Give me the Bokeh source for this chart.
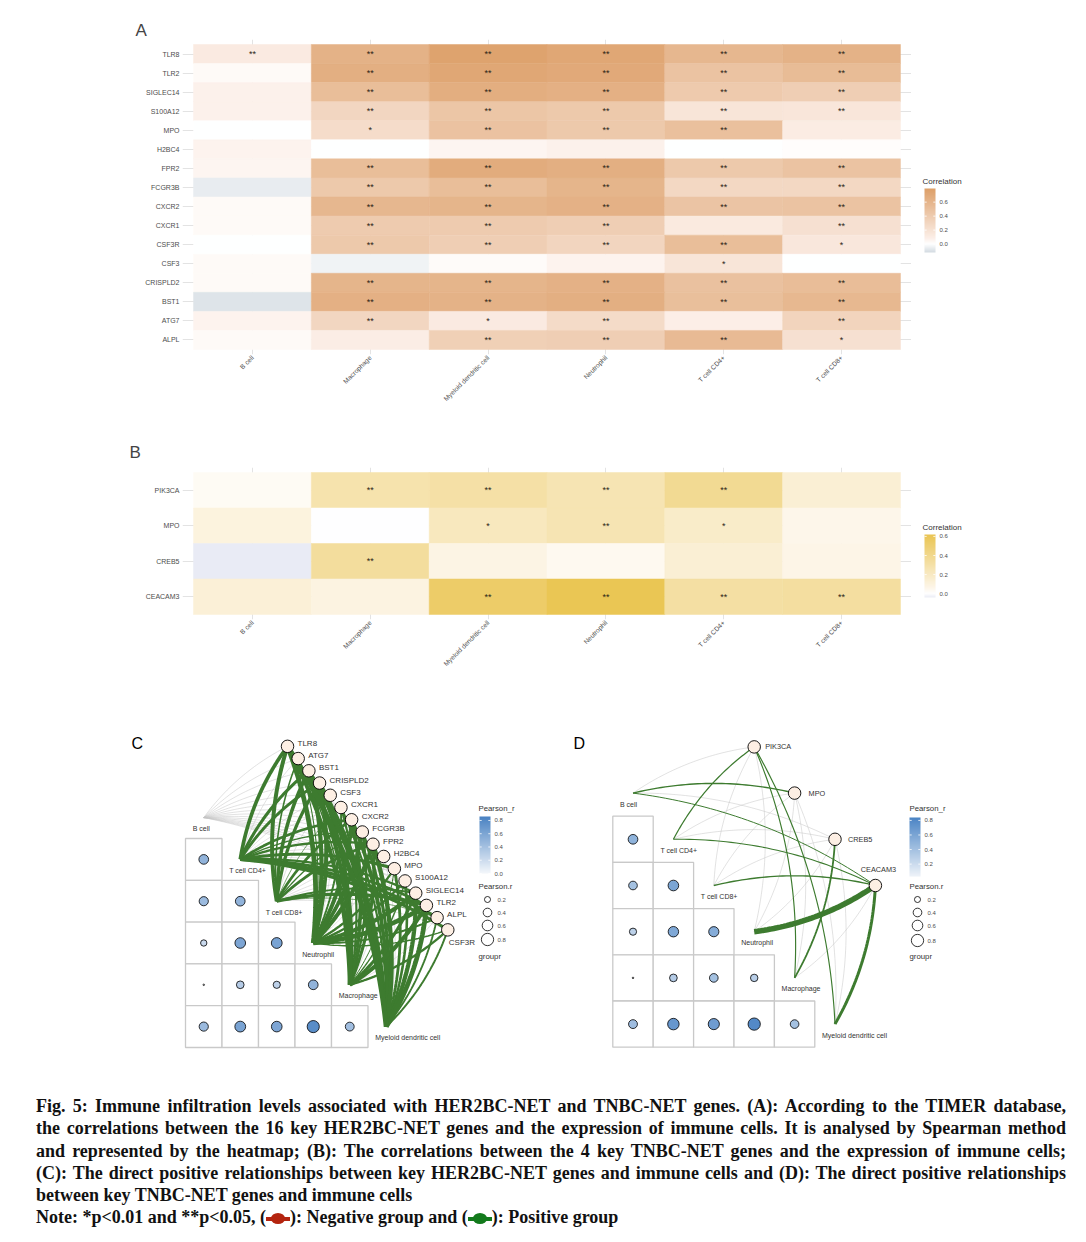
import math
import numpy as np
from bokeh.plotting import figure
from bokeh.models import (FactorRange, Range1d, LinearColorMapper, ColumnDataSource, Div, Spacer)
from bokeh.layouts import column, row
from bokeh.transform import transform
from bokeh.core.properties import value
from bokeh.embed import file_html
from bokeh.resources import INLINE

FONT = "Liberation Sans"
LABEL_GRAY = "#4d4d4d"
TEXT_DARK = "#333333"
GREEN = "#3d7b2f"
GRAY_EDGE = "#c4c4c4"

# ---------------- data ----------------
cells = ["B cell", "Macrophage", "Myeloid dendritic cell", "Neutrophil", "T cell CD4+", "T cell CD8+"]

genes_A = ["TLR8", "TLR2", "SIGLEC14", "S100A12", "MPO", "H2BC4", "FPR2", "FCGR3B",
           "CXCR2", "CXCR1", "CSF3R", "CSF3", "CRISPLD2", "BST1", "ATG7", "ALPL"]
corr_A = [
    [0.12, 0.62, 0.76, 0.72, 0.58, 0.62],
    [0.03, 0.65, 0.72, 0.70, 0.47, 0.54],
    [0.07, 0.52, 0.66, 0.64, 0.41, 0.37],
    [0.07, 0.30, 0.45, 0.42, 0.17, 0.16],
    [0.00, 0.25, 0.48, 0.42, 0.50, 0.11],
    [0.06, 0.00, 0.05, 0.07, 0.00, 0.01],
    [0.05, 0.52, 0.68, 0.65, 0.42, 0.47],
    [-0.06, 0.42, 0.52, 0.60, 0.29, 0.29],
    [0.03, 0.58, 0.60, 0.63, 0.46, 0.47],
    [0.03, 0.40, 0.40, 0.37, 0.13, 0.21],
    [0.00, 0.42, 0.37, 0.31, 0.52, 0.15],
    [0.03, -0.04, 0.02, 0.06, 0.17, 0.00],
    [0.03, 0.60, 0.60, 0.63, 0.49, 0.53],
    [-0.09, 0.64, 0.62, 0.65, 0.51, 0.57],
    [0.06, 0.30, 0.12, 0.26, 0.09, 0.32],
    [0.03, 0.10, 0.36, 0.37, 0.55, 0.21],
]
sig_A = [
    ["**", "**", "**", "**", "**", "**"],
    ["", "**", "**", "**", "**", "**"],
    ["", "**", "**", "**", "**", "**"],
    ["", "**", "**", "**", "**", "**"],
    ["", "*", "**", "**", "**", ""],
    ["", "", "", "", "", ""],
    ["", "**", "**", "**", "**", "**"],
    ["", "**", "**", "**", "**", "**"],
    ["", "**", "**", "**", "**", "**"],
    ["", "**", "**", "**", "", "**"],
    ["", "**", "**", "**", "**", "*"],
    ["", "", "", "", "*", ""],
    ["", "**", "**", "**", "**", "**"],
    ["", "**", "**", "**", "**", "**"],
    ["", "**", "*", "**", "", "**"],
    ["", "", "**", "**", "**", "*"],
]

genes_B = ["PIK3CA", "MPO", "CREB5", "CEACAM3"]
corr_B = [
    [0.03, 0.28, 0.31, 0.26, 0.38, 0.14],
    [0.10, 0.00, 0.22, 0.26, 0.18, 0.06],
    [-0.04, 0.34, 0.08, 0.04, 0.14, 0.07],
    [0.13, 0.09, 0.54, 0.61, 0.32, 0.33],
]
sig_B = [
    ["", "**", "**", "**", "**", ""],
    ["", "", "*", "**", "*", ""],
    ["", "**", "", "", "", ""],
    ["", "", "**", "**", "**", "**"],
]

net_cells = ["B cell", "T cell CD4+", "T cell CD8+", "Neutrophil", "Macrophage", "Myeloid dendritic cell"]
genes_C = ["TLR8", "ATG7", "BST1", "CRISPLD2", "CSF3", "CXCR1", "CXCR2", "FCGR3B", "FPR2",
           "H2BC4", "MPO", "S100A12", "SIGLEC14", "TLR2", "ALPL", "CSF3R"]
immune_r_C = [[0.50], [0.45, 0.50], [0.22, 0.60, 0.62], [0.02, 0.32, 0.28, 0.50],
              [0.45, 0.62, 0.60, 0.78, 0.42]]
genes_D = ["PIK3CA", "MPO", "CREB5", "CEACAM3"]
net_r_D = [
    [0.10, 0.28, 0.12, 0.15, 0.27, 0.27],
    [0.30, 0.08, 0.10, 0.12, 0.10, 0.12],
    [0.08, 0.10, 0.08, 0.10, 0.35, 0.10],
    [0.25, 0.26, 0.29, 0.82, 0.12, 0.50],
]
immune_r_D = [[0.50], [0.40, 0.60], [0.28, 0.58, 0.55], [0.02, 0.32, 0.40, 0.30],
              [0.42, 0.70, 0.66, 0.80, 0.40]]

ticks_corr = [0.0, 0.2, 0.4, 0.6]
ticks_pearson_C = [0.0, 0.2, 0.4, 0.6, 0.8]
ticks_pearson_D = [0.2, 0.4, 0.6, 0.8]
size_breaks = [0.2, 0.4, 0.6, 0.8]

# C network edge strengths follow the panel A correlations
net_r_C = [[corr_A[genes_A.index(g)][cells.index(c)] for c in net_cells] for g in genes_C]


# ---------------- helpers ----------------
def ramp(stops, lo, hi, n=256):
    sv = [s[0] for s in stops]
    cols = np.array([[int(h[i:i + 2], 16) for i in (1, 3, 5)] for _, h in stops], float)
    out = []
    for v in np.linspace(lo, hi, n):
        rgb = [int(round(np.interp(v, sv, cols[:, k]))) for k in range(3)]
        out.append("#%02x%02x%02x" % tuple(rgb))
    return out


A_LO, A_HI = -0.12, 0.795
B_LO, B_HI = -0.04, 0.62
mapA = LinearColorMapper(palette=ramp([(A_LO, "#d3dbe2"), (0.0, "#ffffff"), (0.08, "#fcefe8"),
                                       (A_HI, "#dd9f68")], A_LO, A_HI), low=A_LO, high=A_HI)
mapB = LinearColorMapper(palette=ramp([(B_LO, "#e9ebf5"), (0.0, "#ffffff"), (0.06, "#fdf6e9"),
                                       (B_HI, "#eac552")], B_LO, B_HI), low=B_LO, high=B_HI)
C_LO, C_HI = 0.0, 0.86
D_LO, D_HI = 0.03, 0.84
mapC = LinearColorMapper(palette=ramp([(C_LO, "#f4f7fb"), (C_HI, "#4a82c3")], C_LO, C_HI), low=C_LO, high=C_HI)
mapD = LinearColorMapper(palette=ramp([(D_LO, "#eef3f9"), (D_HI, "#4b84c5")], D_LO, D_HI), low=D_LO, high=D_HI)


def txt(p, x, y, t, size, align="left", color=TEXT_DARK, xo=0, yo=0, baseline="middle"):
    p.text(x=x, y=y, text=t, text_font_size=size, text_align=align, text_baseline=baseline,
           text_color=color, text_font=value(FONT), x_offset=xo, y_offset=yo)


def heatmap(genes, corr, sig, mapper, height, top, frame_h, ypad, letter, l_off, l_stand):
    xs, ys, rs, ss = [], [], [], []
    for g, rr, sg in zip(genes, corr, sig):
        for c, r, s in zip(cells, rr, sg):
            xs.append(c); ys.append(g); rs.append(r); ss.append(s)
    src = ColumnDataSource(dict(x=xs, y=ys, r=rs, s=ss))
    p = figure(x_range=FactorRange(factors=cells, range_padding=0.0935, range_padding_units="absolute"),
               y_range=FactorRange(factors=genes[::-1], range_padding=ypad, range_padding_units="absolute"),
               width=903, height=height, min_border_left=174, min_border_right=0,
               min_border_top=top, min_border_bottom=height - top - frame_h, toolbar_location=None,
               output_backend="svg", title=letter)
    p.rect(x="x", y="y", width=1, height=1, source=src, fill_color=transform("r", mapper),
           line_color=transform("r", mapper), line_width=0.5)
    p.text(x="x", y="y", text="s", source=src, text_align="center", text_baseline="middle",
           text_font_size="9px", text_color="#2b1d14", text_font=value(FONT))
    p.title.text_font = FONT
    p.title.text_font_size = "17px"
    p.title.text_font_style = "normal"
    p.title.align = "left"
    p.title.offset = l_off
    p.title.standoff = l_stand
    p.outline_line_color = None
    for ax in (p.xaxis, p.yaxis):
        ax.axis_line_color = None
        ax.major_tick_line_color = None
        ax.minor_tick_line_color = None
        ax.major_tick_out = 0
        ax.major_tick_in = 0
        ax.major_label_text_font = FONT
        ax.major_label_text_color = LABEL_GRAY
    p.xaxis.major_label_orientation = math.pi / 4
    p.xaxis.major_label_text_font_size = "6.6px"
    p.xaxis.major_label_standoff = 2
    p.yaxis.major_label_text_font_size = "7px"
    p.yaxis.major_label_standoff = 3
    p.grid.grid_line_color = "#dcdcdc"
    p.grid.grid_line_width = 0.8
    return p


def colorbar_fig(mapper, lo, hi, ticks, height, top, frame_h, bar_top, bar_h, title):
    # frame shares the heatmap's vertical borders; x in pixels, y in correlation units
    ppu = bar_h / (hi - lo)
    y0 = lo - (top + frame_h - bar_top - bar_h) / ppu
    y1 = hi + (bar_top - top) / ppu
    p = figure(x_range=Range1d(0, 167), y_range=Range1d(y0, y1), width=167, height=height,
               min_border_left=0, min_border_right=0, min_border_top=top,
               min_border_bottom=height - top - frame_h, x_axis_type=None, y_axis_type=None,
               toolbar_location=None, output_backend="svg", title=None)
    p.outline_line_color = None
    p.image(image=[np.linspace(lo, hi, 256).reshape(-1, 1)], x=13, y=lo, dw=11, dh=hi - lo,
            color_mapper=mapper)
    n = len(ticks)
    p.segment(x0=[13] * n, y0=ticks, x1=[15.2] * n, y1=ticks, line_color="white", line_width=0.8)
    p.segment(x0=[21.8] * n, y0=ticks, x1=[24] * n, y1=ticks, line_color="white", line_width=0.8)
    txt(p, [28] * n, ticks, ["%.1f" % v for v in ticks], "6px", color=LABEL_GRAY)
    txt(p, [11], [hi], [title], "8px", yo=-7)
    return p


def dsize(r):
    return float(np.sqrt(1.5 ** 2 + (12.3 ** 2 - 1.5 ** 2) * max(r - 0.02, 0) / 0.78))


def network(fig_x0, fig_w, mat_left, mat_top, cw, ch, genes, gene_c, edge_r, mat_r, mapper,
            lo, hi, letter, letter_x, leg, gene_font, gene_lab, cell_dx):
    def fx(px): return (np.asarray(px, float) - mat_left - cw / 2) / cw
    def fy(py): return -(np.asarray(py, float) - mat_top - ch / 2) / ch
    def tpx(X): return mat_left + cw / 2 + cw * X
    def tpy(Y): return mat_top + ch / 2 - ch * Y

    p = figure(width=fig_w, height=360, x_range=Range1d(float(fx(fig_x0)), float(fx(fig_x0 + fig_w))),
               y_range=Range1d(float(fy(1085)), float(fy(725))), min_border=0, toolbar_location=None,
               output_backend="svg", x_axis_type=None, y_axis_type=None, title=None)
    p.outline_line_color = None

    # correlation matrix among immune cells (lower triangle)
    mx, my, mr, ms = [], [], [], []
    for i, vals in enumerate(mat_r):
        for j, v in enumerate(vals):
            mx.append(j); my.append(-i); mr.append(v); ms.append(dsize(v))
    msrc = ColumnDataSource(dict(x=mx, y=my, r=mr, s=ms))
    p.rect(x="x", y="y", width=1, height=1, source=msrc, fill_color="white",
           line_color="#c9c9c9", line_width=1.3)

    # edges gene -> immune cell (curve bends one way for the first half of cells, the other way after)
    ncell = len(net_cells)
    cell_X = np.arange(ncell, dtype=float)
    cell_Y = 1 - cell_X
    gene_X = np.asarray(gene_c, float)
    gene_Y = 5 - gene_X
    t = np.linspace(0, 1, 41)[:, None]
    recs = []
    for gi in range(len(genes)):
        for ki in range(ncell):
            r = edge_r[gi][ki]
            p0 = np.array([tpx(cell_X[ki]), tpy(cell_Y[ki])])
            p1 = np.array([tpx(gene_X[gi]), tpy(gene_Y[gi])])
            d = p1 - p0
            L = float(np.hypot(d[0], d[1]))
            nrm = np.array([d[1], -d[0]]) / L
            sgn = 1.0 if ki < ncell / 2 else -1.0
            cp = (p0 + p1) / 2 + sgn * 0.12 * L * nrm
            b = (1 - t) ** 2 * p0 + 2 * (1 - t) * t * cp + t ** 2 * p1
            pos = r >= 0.2
            recs.append((pos, r, fx(b[:, 0]).tolist(), fy(b[:, 1]).tolist()))
    recs.sort(key=lambda e: (e[0], e[1]))
    esrc = ColumnDataSource(dict(
        xs=[e[2] for e in recs], ys=[e[3] for e in recs],
        color=[GREEN if e[0] else GRAY_EDGE for e in recs],
        w=[max(0.6, 8 * e[1] - 1) if e[0] else 0.5 for e in recs]))
    p.multi_line(xs="xs", ys="ys", source=esrc, line_color="color", line_width="w")

    # matrix circles
    p.scatter(x="x", y="y", size="s", source=msrc, fill_color=transform("r", mapper),
              line_color="black", line_width=0.8)

    # immune cell labels
    txt(p, cell_X.tolist(), cell_Y.tolist(), net_cells, "7px", xo=cell_dx, yo=11)

    # gene nodes
    p.scatter(x=gene_X.tolist(), y=gene_Y.tolist(), size=12.5, fill_color="#fdefe4",
              line_color="black", line_width=0.9)
    for gi, g in enumerate(genes):
        dx, dy, al = gene_lab.get(g, (10, -3, "left"))
        txt(p, [gene_X[gi]], [gene_Y[gi]], [g], gene_font, align=al, xo=dx, yo=dy)

    # panel letter
    txt(p, [float(fx(letter_x))], [float(fy(743))], [letter], "16px", color="black")

    # legends
    lx = leg["x"]
    txt(p, [float(fx(lx))], [float(fy(808))], ["Pearson_r"], "7.8px")
    bx0, bx1, btop, bbot = leg["bar"]
    arr = np.linspace(lo, hi, 256).reshape(-1, 1)
    p.image(image=[arr], x=float(fx(bx0)), y=float(fy(bbot)), dw=float(fx(bx1) - fx(bx0)),
            dh=float(fy(btop) - fy(bbot)), color_mapper=mapper)
    tick_py = [bbot - (v - lo) / (hi - lo) * (bbot - btop) for v in leg["ticks"]]
    ty = fy(tick_py).tolist()
    p.segment(x0=[float(fx(bx0))] * len(ty), y0=ty, x1=[float(fx(bx0 + 2.2))] * len(ty), y1=ty,
              line_color="white", line_width=0.8)
    p.segment(x0=[float(fx(bx1 - 2.2))] * len(ty), y0=ty, x1=[float(fx(bx1))] * len(ty), y1=ty,
              line_color="white", line_width=0.8)
    txt(p, [float(fx(bx1 + 4))] * len(ty), ty, ["%.1f" % v for v in leg["ticks"]], "6px",
        color=LABEL_GRAY)
    txt(p, [float(fx(lx))], [float(fy(886))], ["Pearson.r"], "7.8px")
    sy = fy(leg["size_y"]).tolist()
    p.scatter(x=[float(fx(leg["size_x"]))] * 4, y=sy, size=[dsize(v) for v in size_breaks],
              fill_color="white", line_color="black", line_width=0.8)
    txt(p, [float(fx(leg["size_x"] + 10))] * 4, sy, ["%.1f" % v for v in size_breaks], "6px",
        color=LABEL_GRAY)
    txt(p, [float(fx(lx))], [float(fy(956))], ["groupr"], "7.8px")
    return p


# ---------------- panels ----------------
figA = heatmap(genes_A, corr_A, sig_A, mapA, height=422, top=31, frame_h=315, ypad=0.262,
               letter="A", l_off=-47, l_stand=0)
legA = colorbar_fig(mapA, A_LO, A_HI, ticks_corr, height=422, top=31, frame_h=315,
                    bar_top=180, bar_h=64, title="Correlation")

figB = heatmap(genes_B, corr_B, sig_B, mapB, height=295, top=37, frame_h=152, ypad=0.141,
               letter="B", l_off=-53, l_stand=12)
legB = colorbar_fig(mapB, B_LO, B_HI, ticks_corr, height=295, top=37, frame_h=152,
                    bar_top=104, bar_h=63, title="Correlation")

figC = network(8, 552, 185.0, 838.0, 36.5, 41.8, genes_C, np.linspace(2.295, 6.686, len(genes_C)),
               net_r_C, immune_r_C, mapC, C_LO, C_HI, "C", 131,
               dict(x=478, bar=(479, 490, 816, 873), ticks=ticks_pearson_C, size_x=487,
                    size_y=[899, 912, 925, 939]),
               "8px", {"CSF3R": (1, 13, "left")}, -11)

figD = network(560, 518, 612.3, 815.7, 40.4, 46.2, genes_D, np.linspace(3, 6, len(genes_D)),
               net_r_D, immune_r_D, mapD, D_LO, D_HI, "D", 573,
               dict(x=909, bar=(909, 920, 817, 876), ticks=ticks_pearson_D, size_x=917,
                    size_y=[899, 912, 925, 940]),
               "7.3px", {"PIK3CA": (11, 0, "left"), "MPO": (14, 0, "left"),
                         "CREB5": (13, 0, "left"), "CEACAM3": (3, -16, "center")}, -13)

# ---------------- caption ----------------
full_lines = [
    "Fig. 5: Immune infiltration levels associated with HER2BC-NET and TNBC-NET genes. (A): According to the TIMER database,",
    "the correlations between the 16 key HER2BC-NET genes and the expression of immune cells. It is analysed by Spearman method",
    "and represented by the heatmap; (B): The correlations between the 4 key TNBC-NET genes and the expression of immune cells;",
    "(C): The direct positive relationships between key HER2BC-NET genes and immune cells and (D): The direct positive relationships",
]
last_line = "between key TNBC-NET genes and immune cells"


def icon(col):
    return ('<span style="display:inline-block;position:relative;width:24px;height:11px;vertical-align:-1px;">'
            f'<span style="position:absolute;left:0;top:4px;width:24px;height:3.5px;background:{col};"></span>'
            f'<span style="position:absolute;left:5px;top:0;width:14px;height:11px;background:{col};border-radius:50%;"></span>'
            '</span>')


note = ("Note: *p&lt;0.01 and **p&lt;0.05, (" + icon("#b4240f") + "): Negative group and ("
        + icon("#137a1c") + "): Positive group")
style = ("font-family:'Liberation Serif','Times New Roman',serif;font-weight:bold;font-size:18px;"
         "line-height:22.3px;color:#111111;")
html = f'<div style="{style}width:1030px;margin-left:23px;padding-top:5px;">'
for ln in full_lines:
    html += f'<div style="text-align:justify;text-align-last:justify;">{ln}</div>'
html += f'<div>{last_line}</div><div>{note}</div></div>'
caption = Div(text=html, width=1070, height=148)

body = column(row(figA, legA), row(figB, legB), row(figC, figD), caption)
layout = row(Spacer(width=8, height=10), column(Spacer(width=10, height=8), body))
open("out.html", "w").write(file_html(layout, INLINE))
